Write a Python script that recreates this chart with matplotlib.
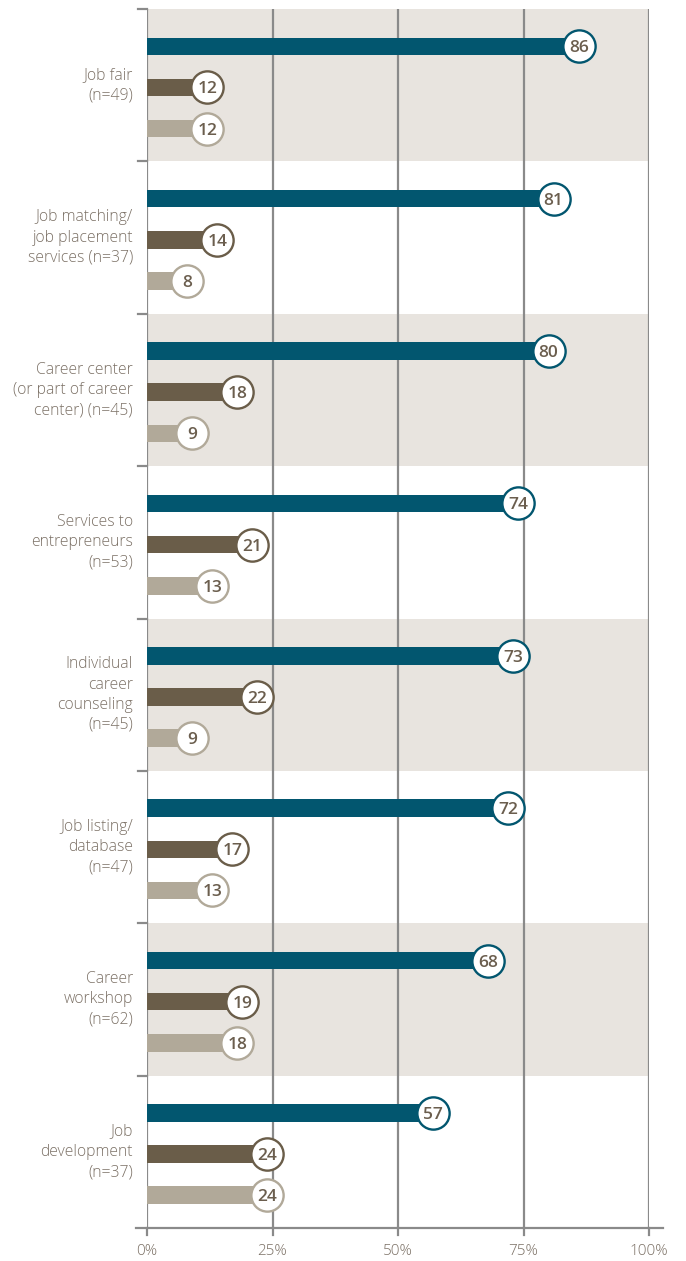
import matplotlib
matplotlib.use("Agg")
import matplotlib.pyplot as plt

categories = [
    "Job fair\n(n=49)",
    "Job matching/\njob placement\nservices (n=37)",
    "Career center\n(or part of career\ncenter) (n=45)",
    "Services to\nentrepreneurs\n(n=53)",
    "Individual\ncareer\ncounseling\n(n=45)",
    "Job listing/\ndatabase\n(n=47)",
    "Career\nworkshop\n(n=62)",
    "Job\ndevelopment\n(n=37)",
]
series_a = [86, 81, 80, 74, 73, 72, 68, 57]
series_b = [12, 14, 18, 21, 22, 17, 19, 24]
series_c = [12, 8, 9, 13, 9, 13, 18, 24]
x_ticks = [0, 25, 50, 75, 100]
x_tick_labels = ["0%", "25%", "50%", "75%", "100%"]

colors = ["#02566f", "#6a5d49", "#b1a999"]
band_color = "#e8e4df"
grid_color = "#8a8a8a"
text_color = "#7b7065"
num_color = "#6b5e4e"

W, H = 686, 1261
fig = plt.figure(figsize=(W / 100, H / 100), dpi=100)
x0, x1 = 147, 649
y0, y1 = 9, 1228
ax = fig.add_axes([x0 / W, 1 - y1 / H, (x1 - x0) / W, (y1 - y0) / H])
n = len(categories)
ax.set_xlim(0, 100)
ax.set_ylim(n, 0)
ax.axis("off")

# bands
for i in range(n):
    if i % 2 == 0:
        ax.axhspan(i, i + 1, xmin=0, xmax=1, color=band_color, lw=0, zorder=0)

# gridlines
for t in x_ticks:
    ax.axvline(t, color=grid_color, lw=1.6, zorder=1)

offsets = [-0.255, 0.015, 0.285]
bar_h = 0.115
for i in range(n):
    vals = [series_a[i], series_b[i], series_c[i]]
    for j, v in enumerate(vals):
        y = i + 0.5 + offsets[j]
        ax.barh(y, v, height=bar_h, color=colors[j], lw=0, zorder=2)
        ax.scatter([v], [y], s=540, facecolor="white", edgecolor=colors[j],
                   linewidth=1.7, zorder=3)
        ax.text(v, y, str(v), ha="center", va="center_baseline", color=num_color,
                fontsize=12.5, fontweight="semibold", family="Open Sans", zorder=4)
    ax.text(-2.8, i + 0.5, categories[i], ha="right", va="center",
            color=text_color, fontsize=11.3, family="Open Sans",
            fontweight="light", linespacing=1.35)

# left y ticks at band boundaries
for i in range(n):
    ax.plot([-1.8, 0], [i, i], color=grid_color, lw=1.6, clip_on=False, zorder=1)

# bottom axis line
ax.plot([-2.2, 102.8], [n, n], color=grid_color, lw=1.6, clip_on=False, zorder=5)
for t, lab in zip(x_ticks, x_tick_labels):
    ax.plot([t, t], [n, n + 0.045], color=grid_color, lw=1.6, clip_on=False, zorder=5)
    ax.text(t, n + 0.155, lab, ha="center", va="center", color=text_color,
            fontsize=11, family="Open Sans", fontweight="light")

fig.savefig("out.png", dpi=100, facecolor="white")
